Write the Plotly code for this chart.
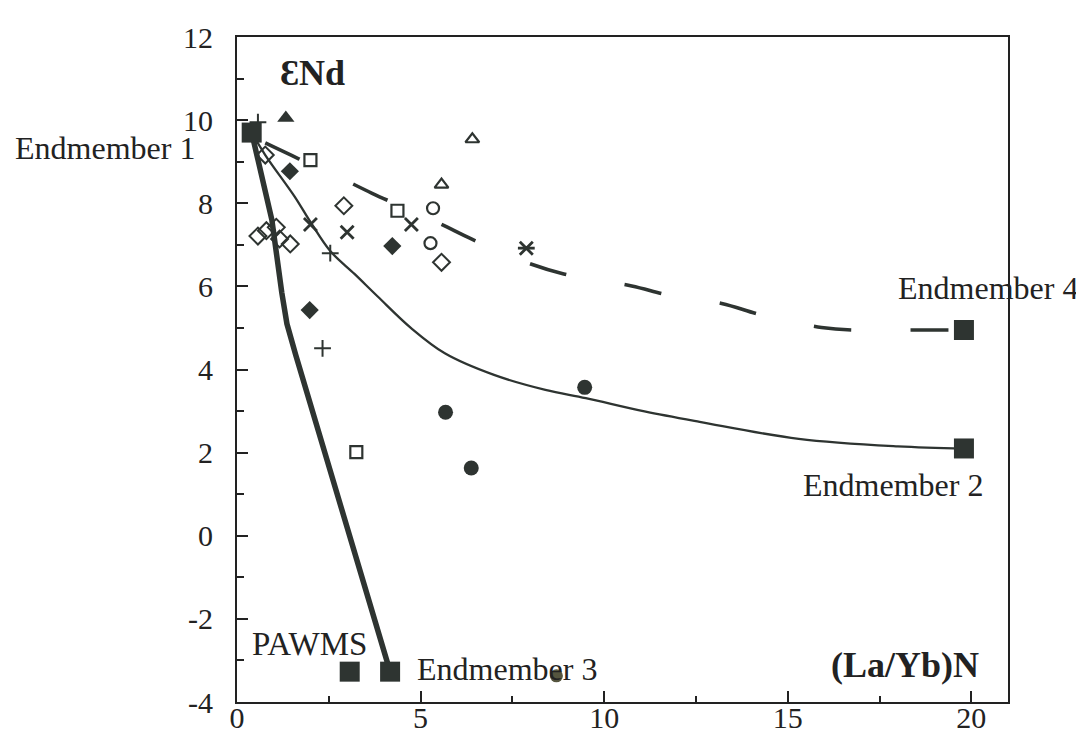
import plotly.graph_objects as go

INK = "#2e3431"

# Endmembers (filled big squares)
em_x = [0.4, 19.8, 4.17, 19.8, 3.07]
em_y = [9.7, 2.1, -3.27, 4.95, -3.27]

# Mixing curves
thick_x = [0.4, 0.95, 1.22, 1.36, 1.6, 4.17]
thick_y = [9.7, 7.6, 5.85, 5.1, 4.35, -3.27]

thin_x = [0.4, 0.77, 1.57, 2.0, 2.54, 3.2, 3.84, 4.75, 5.66, 7.0, 8.4, 9.5, 11.1, 12.6, 15.3, 18.0, 19.8]
thin_y = [9.7, 9.16, 8.16, 7.55, 6.85, 6.3, 5.75, 4.99, 4.39, 3.87, 3.51, 3.31, 2.99, 2.74, 2.33, 2.15, 2.1]

dash_x = [0.77, 1.68, 2.75, 3.68, 5.5, 6.41, 7.93, 8.9, 10.75, 11.75, 13.2, 14.29, 15.92, 17.01, 18.42, 19.8]
dash_y = [9.45, 9.07, 8.64, 8.24, 7.52, 7.13, 6.56, 6.3, 6.01, 5.79, 5.59, 5.31, 5.01, 4.94, 4.95, 4.95]

# Sample groups
tri_f_x, tri_f_y = [1.33], [10.05]
tri_o_x, tri_o_y = [6.41, 5.57], [9.54, 8.45]
sq_o_x, sq_o_y = [2.0, 4.37, 3.25], [9.04, 7.82, 2.01]
dia_o_x = [0.77, 2.91, 0.57, 0.8, 1.07, 1.16, 1.45, 5.57]
dia_o_y = [9.16, 7.94, 7.21, 7.34, 7.42, 7.14, 7.02, 6.58]
dia_f_x, dia_f_y = [1.44, 4.23, 1.98], [8.77, 6.97, 5.43]
cir_o_x, cir_o_y = [5.34, 5.27], [7.88, 7.04]
cir_f_x, cir_f_y = [5.68, 6.38, 9.47], [2.97, 1.63, 3.57]
cir_g_x, cir_g_y = [8.7], [-3.37]
xs_x, xs_y = [2.0, 3.0, 4.75, 7.88], [7.49, 7.3, 7.49, 6.92]
bar_x, bar_y = [7.88], [6.92]
plus_x, plus_y = [0.57, 2.54, 2.33], [9.95, 6.8, 4.51]

x_ticks = [0, 5, 10, 15, 20]
y_ticks = [-4, -2, 0, 2, 4, 6, 8, 10, 12]

fig = go.Figure()

def line(x, y, w, dash=None, shape="linear"):
    fig.add_trace(go.Scatter(x=x, y=y, mode="lines",
                             line=dict(color=INK, width=w, dash=dash, shape=shape,
                                       smoothing=1.0 if shape == "spline" else None),
                             hoverinfo="skip", showlegend=False))

def pts(x, y, sym, size, color=INK, lw=2):
    fig.add_trace(go.Scatter(x=x, y=y, mode="markers",
                             marker=dict(symbol=sym, size=size, color=color,
                                         line=dict(color=color, width=lw)),
                             showlegend=False))

line(thin_x, thin_y, 2.3, shape="spline")
line(dash_x, dash_y, 3.6, "38px,59px", shape="spline")
line(thick_x, thick_y, 5.5)

pts(tri_f_x, tri_f_y, "triangle-up", 15, lw=0)
pts(tri_o_x, tri_o_y, "triangle-up-open", 12, lw=2.2)
pts(sq_o_x, sq_o_y, "square-open", 12, lw=2.2)
pts(dia_o_x, dia_o_y, "diamond-open", 13)
pts(dia_f_x, dia_f_y, "diamond", 14, lw=0)
pts(cir_o_x, cir_o_y, "circle-open", 12, lw=2.2)
pts(cir_f_x, cir_f_y, "circle", 15, lw=0)
pts(cir_g_x, cir_g_y, "circle", 13, color="#55553f", lw=0)
pts(xs_x, xs_y, "x-thin-open", 13, lw=2.8)
pts(bar_x, bar_y, "line-ew-open", 12, lw=2.8)
pts(plus_x, plus_y, "cross-thin-open", 12, lw=2)
pts(em_x, em_y, "square", 20, lw=0)

font = "Liberation Serif, Times New Roman, serif"
ann = [
    dict(text="Endmember 2", x=20.37, y=1.23, xanchor="right", size=32),
    dict(text="Endmember 3", x=4.84, y=-3.2, xanchor="left", size=32),
    dict(text="PAWMS", x=0.35, y=-2.6, xanchor="left", size=33),
    dict(text="<b>(La/Yb)N</b>", x=20.27, y=-3.1, xanchor="right", size=36),
    dict(text="<b>\u0190Nd</b>", x=1.12, y=11.13, xanchor="left", size=36),
]
for a in ann:
    fig.add_annotation(text=a["text"], x=a["x"], y=a["y"], xref="x", yref="y",
                       xanchor=a["xanchor"], yanchor="middle", showarrow=False,
                       font=dict(family=font, size=a["size"], color="#222"))

# labels placed outside the axes (paper coordinates)
out_ann = [
    dict(text="Endmember 1", x=-0.052, y=(9.33 + 4) / 16, xanchor="right"),
    dict(text="Endmember 4", x=1.094, y=(5.96 + 4) / 16, xanchor="right"),
]
for a in out_ann:
    fig.add_annotation(text=a["text"], x=a["x"], y=a["y"], xref="paper", yref="paper",
                       xanchor=a["xanchor"], yanchor="middle", showarrow=False,
                       font=dict(family=font, size=32, color="#222"))

axis_common = dict(showgrid=False, zeroline=False, showline=True, linecolor="#222",
                   linewidth=2, mirror=True, ticks="inside", tickcolor="#222",
                   tickwidth=2, ticklen=11,
                   tickfont=dict(family=font, size=30, color="#222"))

fig.update_xaxes(range=[0, 21], tickvals=x_ticks, ticktext=[str(v) for v in x_ticks],
                 minor=dict(ticks="inside", ticklen=6, tickwidth=2, tickcolor="#222",
                            tickvals=[2.5, 7.5, 12.5, 17.5]),
                 ticklabelstandoff=-12, **axis_common)
fig.update_yaxes(range=[-4, 12], tickvals=y_ticks, ticktext=[str(v) for v in y_ticks],
                 minor=dict(ticks="inside", ticklen=7, tickwidth=2, tickcolor="#222",
                            tickvals=[-3, -1, 1, 3, 5, 7, 9, 11]),
                 ticklabelstandoff=16, **axis_common)

fig.update_layout(width=1084, height=751, margin=dict(l=229, r=84, t=27, b=57),
                  plot_bgcolor="white", paper_bgcolor="white", showlegend=False)

fig.write_html("out.html")
